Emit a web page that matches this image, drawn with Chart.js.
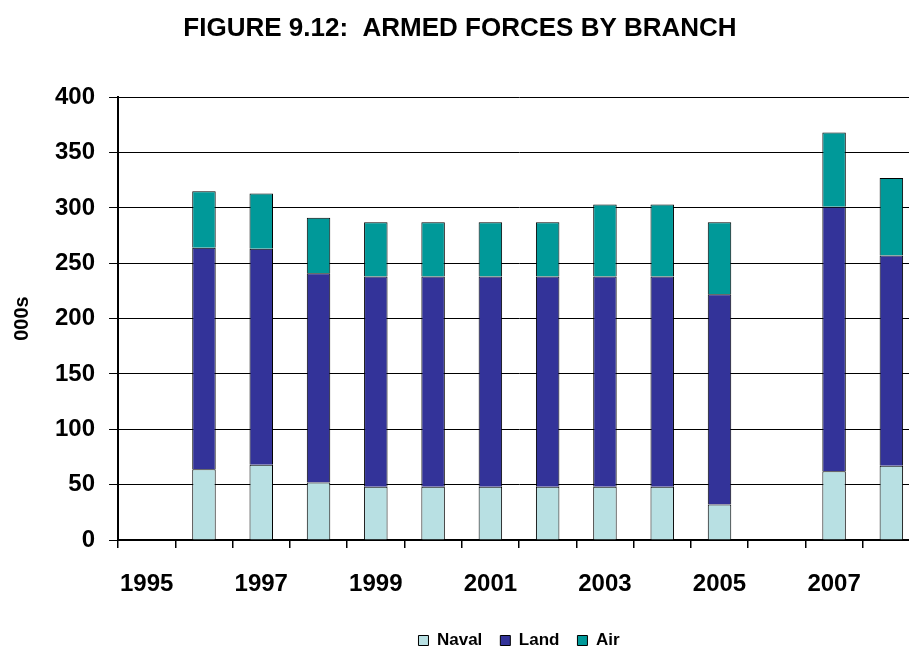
<!DOCTYPE html>
<html>
<head>
<meta charset="utf-8">
<script src="https://cdn.jsdelivr.net/npm/chart.js@4"></script>
<style>
  html, body { margin: 0; padding: 0; background: #fff; overflow: hidden; }
  #box { width: 920px; height: 659px; }
</style>
</head>
<body>
<div id="box"><canvas id="forcesChart" width="920" height="659"></canvas></div>
<script>
// years on the x axis (1995 and 2006 have no bars)
const years = ['1995','1996','1997','1998','1999','2000','2001','2002','2003','2004','2005','2006','2007','2008'];
// thousands of personnel
const naval = [null, 64, 68, 52, 48, 48, 48, 48, 48, 48, 32, null, 62, 67];
const land  = [null, 200, 195, 189, 190, 190, 190, 190, 190, 190, 190, null, 239, 190];
const air   = [null, 51, 50, 50, 49, 49, 49, 49, 65, 65, 65, null, 67, 70];

const font = "'Liberation Sans', Arial, sans-serif";
Chart.defaults.font.family = font;
Chart.defaults.color = '#000';

const canvasElement = document.getElementById('forcesChart');

const config = {
  type: 'bar',
  data: {
    labels: years,
    datasets: [
      { label: 'Naval', data: naval, backgroundColor: '#B8E0E3', borderColor: '#000', borderWidth: 1 },
      { label: 'Land',  data: land,  backgroundColor: '#333399', borderColor: '#000', borderWidth: 1 },
      { label: 'Air',   data: air,   backgroundColor: '#009999', borderColor: '#000', borderWidth: 1 }
    ]
  },
  options: {
    responsive: false,
    animation: false,
    devicePixelRatio: 1,
    categoryPercentage: 0.41,
    barPercentage: 1,
    layout: { padding: 0 },
    plugins: {
      title: {
        display: true,
        text: 'FIGURE 9.12:  ARMED FORCES BY BRANCH',
        font: { size: 26, weight: 'bold' },
        color: '#000',
        padding: { top: 13, bottom: 53 }
      },
      legend: {
        position: 'bottom',
        fullSize: false,
        labels: {
          boxWidth: 10,
          boxHeight: 10,
          padding: 18,
          color: '#000',
          font: { size: 17, weight: 'bold' }
        }
      },
      tooltip: { enabled: false }
    },
    scales: {
      x: {
        stacked: true,
        offset: true,
        grid: { display: true, drawOnChartArea: false, drawTicks: true, tickLength: 8, offset: true, color: '#000', lineWidth: 1.5 },
        border: { color: '#000', width: 2 },
        ticks: {
          autoSkip: false,
          maxRotation: 0,
          padding: 22,
          color: '#000',
          font: { size: 24, weight: 'bold' },
          callback: function (value, index) {
            return index % 2 === 0 ? this.getLabelForValue(value) : '';
          }
        },
        afterFit: function (scale) { scale.height = 74; }
      },
      y: {
        stacked: true,
        min: 0,
        max: 400,
        grid: { color: '#000', lineWidth: 1, tickLength: 9 },
        border: { color: '#000', width: 2 },
        ticks: {
          stepSize: 50,
          padding: 14,
          color: '#000',
          font: { size: 24, weight: 'bold' }
        },
        title: {
          display: true,
          text: '000s',
          color: '#000',
          font: { size: 20, weight: 'bold' },
          padding: { top: 10, bottom: 7 }
        }
      }
    }
  }
};

const forcesChart = new Chart(canvasElement, config);
</script>
</body>
</html>
